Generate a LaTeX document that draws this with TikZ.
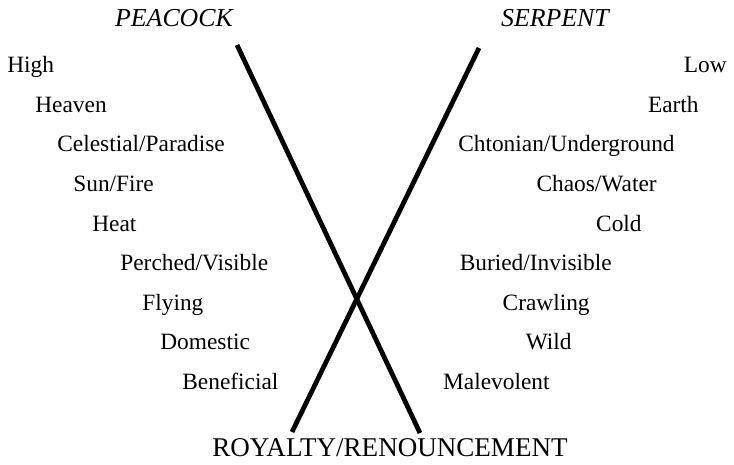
\documentclass[tikz,border=0pt]{standalone}
\usepackage{fontspec}
\setmainfont{Liberation Serif}

\begin{document}
\begin{tikzpicture}[font=\fontsize{13.3}{16}\selectfont,leftword/.style={anchor=base west,inner sep=0pt},rightword/.style={anchor=base east,inner sep=0pt},heading/.style={font=\fontsize{14.7}{17}\selectfont\itshape,inner sep=0pt},bar/.style={line width=2.7pt}]
\useasboundingbox (0,0) rectangle (14.68,9.3);
\node[heading] (peacock) at (3.48,8.94){PEACOCK};
\node[heading] (serpent) at (11.10,8.94){SERPENT};
\node[leftword] (high) at (0.14,7.84){High};
\node[leftword] (heaven) at (0.70,7.05){Heaven};
\node[leftword] (celestial) at (1.14,6.26){Celestial/Paradise};
\node[leftword] (sunfire) at (1.46,5.46){Sun/Fire};
\node[leftword] (heat) at (1.84,4.67){Heat};
\node[leftword] (perched) at (2.40,3.88){Perched/Visible};
\node[leftword] (flying) at (2.84,3.09){Flying};
\node[leftword] (domestic) at (3.20,2.30){Domestic};
\node[leftword] (beneficial) at (3.64,1.50){Beneficial};
\node[rightword] (low) at (14.54,7.84){Low};
\node[rightword] (earth) at (13.98,7.05){Earth};
\node[rightword] (chtonian) at (13.50,6.26){Chtonian/Underground};
\node[rightword] (chaos) at (13.14,5.46){Chaos/Water};
\node[rightword] (cold) at (12.84,4.67){Cold};
\node[rightword] (buried) at (12.24,3.88){Buried/Invisible};
\node[rightword] (crawling) at (11.80,3.09){Crawling};
\node[rightword] (wild) at (11.44,2.30){Wild};
\node[rightword] (malevolent) at (11.00,1.50){Malevolent};
\node[font=\fontsize{15.4}{18}\selectfont, inner sep=0pt] (royalty) at (7.80,0.34){ROYALTY/RENOUNCEMENT};
\coordinate (peacocktop) at (4.74,8.40);\coordinate (peacockfoot) at (8.40,0.64);\coordinate (serpenttop) at (9.58,8.34);\coordinate (serpentfoot) at (5.84,0.66);
\draw[bar] (peacocktop) -- (peacockfoot);\draw[bar] (serpenttop) -- (serpentfoot);
\end{tikzpicture}
\end{document}
